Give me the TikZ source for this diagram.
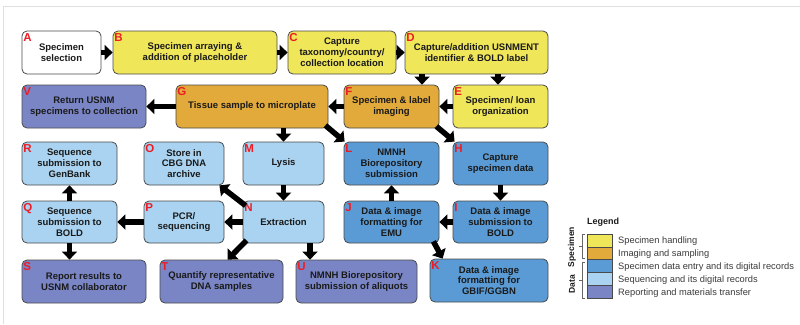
\documentclass[tikz,border=0pt]{standalone}
\usepackage{fontspec}
\setmainfont{Liberation Sans}
\usetikzlibrary{arrows.meta}
\definecolor{cyel}{HTML}{F0E65A}
\definecolor{cora}{HTML}{E2AA3A}
\definecolor{cblu}{HTML}{5A9BD5}
\definecolor{clbl}{HTML}{A9D3F0}
\definecolor{cpur}{HTML}{7A85C5}
\definecolor{boxline}{HTML}{4A4A4A}
\definecolor{txt}{HTML}{1A1A1A}
\definecolor{cred}{HTML}{EE1C24}
\definecolor{legtxt}{HTML}{3A3A3A}
\newcommand\mybox[7]{%
  \node[box, fill=#2, minimum width=#5pt, minimum height=#6pt] (#1) at (#3,#4) {#7};
  \node[letter] (l#1) at ([shift={(1.6,2.4)}]#1.north west) {#1};}
\begin{document}
\begin{tikzpicture}[x=1pt,y=-1pt,
  box/.style={draw=boxline, line width=0.8pt, rounded corners=5pt, align=center,
    font=\bfseries\fontsize{9.5}{10.8}\selectfont, text=txt, inner sep=1pt},
  letter/.style={anchor=north west, inner sep=0pt, text=cred,
    font=\bfseries\fontsize{11.5}{11.5}\selectfont},
  arr/.style={line width=5.5pt, -{Triangle[length=8pt,width=15pt]}},
  swatch/.style={draw=boxline, line width=0.6pt, minimum width=25pt, minimum height=12.8pt, inner sep=0pt},
  legtext/.style={anchor=west, inner sep=0pt, text=legtxt, font=\fontsize{9.3}{10}\selectfont},
  vlab/.style={rotate=90, inner sep=0pt, text=txt, font=\bfseries\fontsize{8.5}{10}\selectfont},
  brk/.style={draw=gray!80!black, line width=0.6pt}]
\useasboundingbox (0,0) rectangle (800,324);
\draw[gray!25, line width=0.6pt] (800,6.5) -- (3.5,6.5) -- (3.5,324);
% row 1
\mybox{A}{white}{61.5}{52.5}{79}{43}{Specimen\\selection}
\mybox{B}{cyel}{195}{52.5}{164}{43}{Specimen arraying \&\\addition of placeholder}
\mybox{C}{cyel}{342}{52.5}{108}{43}{Capture\\taxonomy/country/\\collection location}
\mybox{D}{cyel}{476.5}{52.5}{143}{43}{Capture/addition USNMENT\\identifier \& BOLD label}
% row 2
\mybox{V}{cpur}{84}{106.5}{124}{43}{Return USNM\\specimens to collection}
\mybox{G}{cora}{252}{106.5}{152}{43}{Tissue sample to microplate}
\mybox{F}{cora}{391.5}{106.5}{95}{43}{Specimen \& label\\imaging}
\mybox{E}{cyel}{500.5}{106.5}{95}{43}{Specimen/ loan\\organization}
% row 3
\mybox{R}{clbl}{69.5}{163.5}{95}{43}{Sequence\\submission to\\GenBank}
\mybox{O}{clbl}{184}{163.5}{80}{43}{Store in\\CBG DNA\\archive}
\mybox{M}{clbl}{283.5}{163.5}{81}{43}{Lysis}
\mybox{L}{cblu}{391.5}{163.5}{95}{43}{NMNH\\Biorepository\\submission}
\mybox{H}{cblu}{500.5}{163.5}{95}{43}{Capture\\specimen data}
% row 4
\mybox{Q}{clbl}{69.5}{222}{95}{42}{Sequence\\submission to\\BOLD}
\mybox{P}{clbl}{184}{222}{80}{42}{PCR/\\sequencing}
\mybox{N}{clbl}{283.5}{222}{81}{42}{Extraction}
\mybox{J}{cblu}{391.5}{222}{95}{42}{Data \& image\\formatting for\\EMU}
\mybox{I}{cblu}{500.5}{222}{95}{42}{Data \& image\\submission to\\BOLD}
% row 5
\mybox{S}{cpur}{84}{281.5}{124}{43}{Report results to\\USNM collaborator}
\mybox{T}{cpur}{221.5}{281.5}{123}{43}{Quantify representative\\DNA samples}
\mybox{U}{cpur}{356.5}{281.5}{121}{43}{NMNH Biorepository\\submission of aliquots}
\mybox{K}{cblu}{489}{280.5}{118}{43}{Data \& image\\formatting for\\GBIF/GGBN}
% arrows
\draw[arr] (A) -- (B);
\draw[arr] (B) -- (C);
\draw[arr] (C) -- (D);
\draw[arr] ([xshift=-54.5pt]D.south) -- ([xshift=30.5pt]F.north);
\draw[arr] ([xshift=21.5pt]D.south) -- ([xshift=-2.5pt]E.north);
\draw[arr] (E) -- (F);
\draw[arr] (F) -- (G);
\draw[arr] (G) -- (V);
\draw[arr] (G.south -| M.north) -- (M.north);
\draw[arr] ([shift={(-3,-3)}]G.south east) -- ([shift={(1,0)}]L.north west);
\draw[arr] ([shift={(-3,-2)}]F.south east) -- ([shift={(2,0)}]H.north west);
\draw[arr] (H) -- (I);
\draw[arr] (I) -- (J);
\draw[arr] (J) -- (L);
\draw[arr] ([shift={(-6,-2)}]J.south east) -- ([shift={(13,0)}]K.north west);
\draw[arr] (M) -- (N);
\draw[arr] ([shift={(3,5)}]N.north west) -- ([shift={(-5,0)}]O.south east);
\draw[arr] (N) -- (P);
\draw[arr] (P) -- (Q);
\draw[arr] (Q) -- (R);
\draw[arr] (Q.south) -- (Q.south |- S.north);
\draw[arr] ([shift={(4,-3)}]N.south west) -- ([shift={(68,0)}]T.north west);
\draw[arr] ([xshift=26.5pt]N.south) -- ([xshift=26.5pt]N.south |- U.north);
% legend
\node[anchor=west, inner sep=0pt, text=txt, font=\bfseries\fontsize{9}{10}\selectfont] (leg) at (587,222) {Legend};
\node[swatch, fill=cyel] (s1) at (599.5,240.4) {};
\node[swatch, fill=cora] (s2) at (599.5,253.2) {};
\node[swatch, fill=cblu] (s3) at (599.5,266) {};
\node[swatch, fill=clbl] (s4) at (599.5,278.8) {};
\node[swatch, fill=cpur] (s5) at (599.5,291.6) {};
\node[legtext] (t1) at (618,241) {Specimen handling};
\node[legtext] (t2) at (618,254) {Imaging and sampling};
\node[legtext] (t3) at (618,267) {Specimen data entry and its digital records};
\node[legtext] (t4) at (618,280) {Sequencing and its digital records};
\node[legtext] (t5) at (618,293) {Reporting and materials transfer};
\node[vlab] (vs) at (572,247) {Specimen};
\node[vlab] (vd) at (572,284) {Data};
\draw[brk] (585,234.5) -- (582,234.5) -- (582,258.5) -- (585,258.5);
\draw[brk] (582,246.5) -- (579,246.5);
\draw[brk] (585,262) -- (582,262) -- (582,298) -- (585,298);
\draw[brk] (582,280) -- (579,280);
\end{tikzpicture}
\end{document}
